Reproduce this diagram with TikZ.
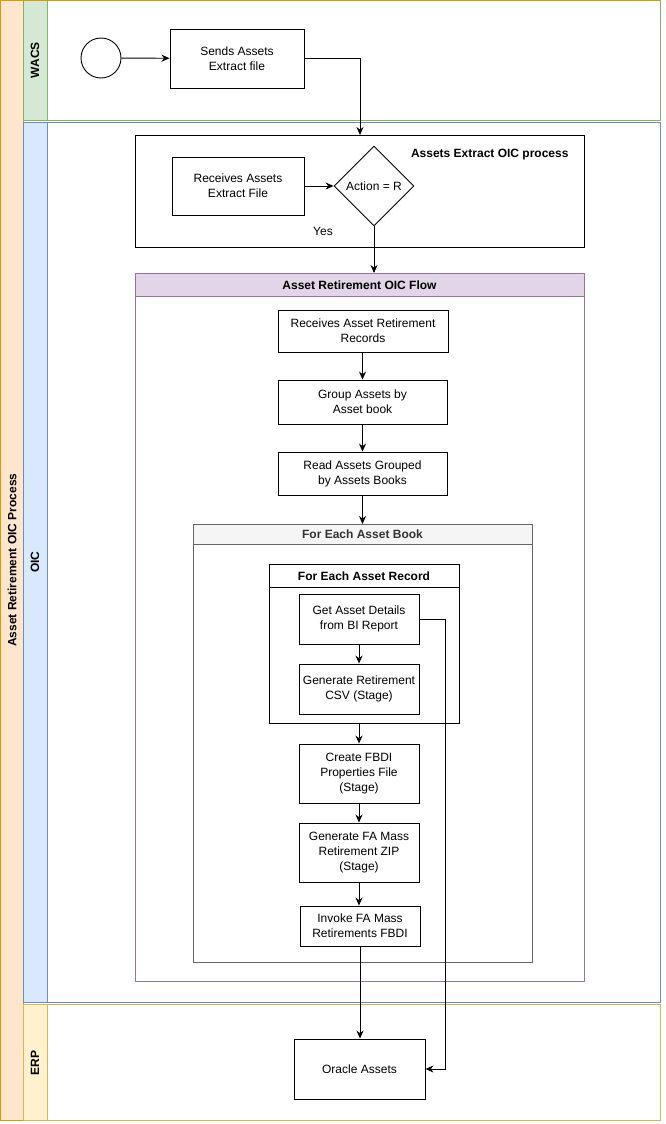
\documentclass[tikz,border=0pt]{standalone}
\usepackage{fontspec}
\setmainfont{Liberation Sans}
\usetikzlibrary{arrows.meta,shapes.geometric}
\definecolor{poolfill}{HTML}{FFE6CC}
\definecolor{poolline}{HTML}{D79B00}
\definecolor{gfill}{HTML}{D5E8D4}
\definecolor{gline}{HTML}{82B366}
\definecolor{bfill}{HTML}{DAE8FC}
\definecolor{bline}{HTML}{6C8EBF}
\definecolor{yfill}{HTML}{FFF2CC}
\definecolor{yline}{HTML}{D6B656}
\definecolor{pfill}{HTML}{E1D5E7}
\definecolor{pline}{HTML}{9673A6}
\definecolor{sfill}{HTML}{F5F5F5}
\definecolor{sline}{HTML}{666666}
\tikzset{
  box/.style={draw=black,line width=0.9pt,fill=white,rectangle,align=center,font=\fontsize{12}{15}\selectfont,inner sep=2pt},
  arr/.style={draw=black,line width=0.9pt,-{Stealth[length=8pt,width=7pt]}},
  lanelbl/.style={rotate=90,font=\bfseries\fontsize{12}{14}\selectfont},
  ttl/.style={font=\bfseries\fontsize{12}{14}\selectfont},
}
\begin{document}
\begin{tikzpicture}[x=1pt,y=-1pt]
\useasboundingbox (0,0) rectangle (665,1124);
% pool
\fill[white] (0,0) rectangle (660,1121);
\draw[poolline,line width=1pt,fill=poolfill] (0.5,0.5) rectangle (23,1120.5);
\node[lanelbl] (pooltitle) at (12,560) {Asset Retirement OIC Process};
% lanes
\draw[gline,line width=1pt] (23,1) rectangle (660,120);
\draw[gline,line width=1pt,fill=gfill] (23,1) rectangle (47,120);
\node[lanelbl] (wacs) at (35,60) {WACS};
\draw[bline,line width=1pt] (23,122) rectangle (660,1002);
\draw[bline,line width=1pt,fill=bfill] (23,122) rectangle (47,1002);
\node[lanelbl] (oic) at (35,562) {OIC};
\draw[yline,line width=1pt] (23,1004) rectangle (660,1120.5);
\draw[yline,line width=1pt,fill=yfill] (23,1004) rectangle (47,1120.5);
\node[lanelbl] (erp) at (35,1063) {ERP};
\draw[poolline,line width=1pt] (0.5,0.5) -- (660,0.5);
% WACS
\node[draw=black,line width=0.9pt,circle,minimum size=40pt,inner sep=0pt] (start) at (101,58) {};
\node[box,minimum width=134pt,minimum height=59pt] (send) at (237,58.5) {Sends Assets\\Extract file};
% Extract group
\node[draw=black,line width=0.9pt,minimum width=449pt,minimum height=112pt,inner sep=0pt] (extract) at (359.5,191) {};
\node[ttl,anchor=east] (extitle) at (572,155) {Assets Extract OIC process};
\node[box,minimum width=132pt,minimum height=58pt] (recv) at (238,186) {Receives Assets\\Extract File};
\node[draw=black,line width=0.9pt,diamond,minimum width=80pt,minimum height=80pt,inner sep=0pt,font=\fontsize{12}{14}\selectfont,fill=white] (dia) at (374,186) {Action = R};
\node[font=\fontsize{12}{14}\selectfont] (yes) at (323,231) {Yes};
% Retirement group
\draw[pline,line width=0.9pt,fill=white] (135,273) rectangle (584,981);
\draw[pline,line width=0.9pt,fill=pfill] (135,273) rectangle (584,296);
\node[ttl] (retitle) at (359.5,285) {Asset Retirement OIC Flow};
\coordinate (retire) at (374,273);
\node[box,minimum width=170pt,minimum height=42pt] (rec1) at (363,331) {Receives Asset Retirement\\Records};
\node[box,minimum width=169pt,minimum height=44pt] (grp) at (362.5,402) {Group Assets by\\Asset book};
\node[box,minimum width=169pt,minimum height=43pt] (read) at (362.5,473.5) {Read Assets Grouped\\by Assets Books};
% For each asset book
\draw[sline,line width=0.9pt] (193,524) rectangle (532,962);
\draw[sline,line width=0.9pt,fill=sfill] (193,524) rectangle (532,544);
\node[ttl,text=black!80] (booktitle) at (362.5,534) {For Each Asset Book};
\coordinate (book) at (362.5,524);
% For each asset record
\draw[black,line width=0.9pt] (269,564) rectangle (459,723);
\draw[black,line width=0.9pt] (269,587) -- (459,587);
\node[ttl] (rectitle) at (364,576) {For Each Asset Record};
\coordinate (recbot) at (359,723);
\node[box,minimum width=120pt,minimum height=50pt] (det) at (359,619) {Get Asset Details\\from BI Report};
\node[box,minimum width=120pt,minimum height=50pt] (csv) at (359,689) {Generate Retirement\\CSV (Stage)};
\node[box,minimum width=120pt,minimum height=59pt] (fbdi) at (359,773.5) {Create FBDI\\Properties File\\(Stage)};
\node[box,minimum width=120pt,minimum height=59pt] (zip) at (359,852.5) {Generate FA Mass\\Retirement ZIP\\(Stage)};
\node[box,minimum width=120pt,minimum height=40pt] (inv) at (360,926) {Invoke FA Mass\\Retirements FBDI};
% ERP
\node[box,minimum width=131pt,minimum height=60pt] (ora) at (359.5,1069) {Oracle Assets};
% connectors
\draw[arr] (start) -- (send);
\draw[arr] (send.east) -| (360,135);
\draw[arr] (recv) -- (dia);
\draw[arr] (dia.south) -- (retire);
\draw[arr] (rec1.south -| grp.north) -- (grp);
\draw[arr] (grp) -- (read);
\draw[arr] (read.south) -- (book);
\draw[arr] (det) -- (csv);
\draw[arr] (recbot) -- (fbdi.north -| recbot);
\draw[arr] (fbdi) -- (zip);
\draw[arr] (zip.south) -- (zip.south |- inv.north);
\draw[arr] (inv.south) -- (inv.south |- ora.north);
\draw[arr] (det.east) -- ++(26,0) |- (ora.east);
\end{tikzpicture}
\end{document}
